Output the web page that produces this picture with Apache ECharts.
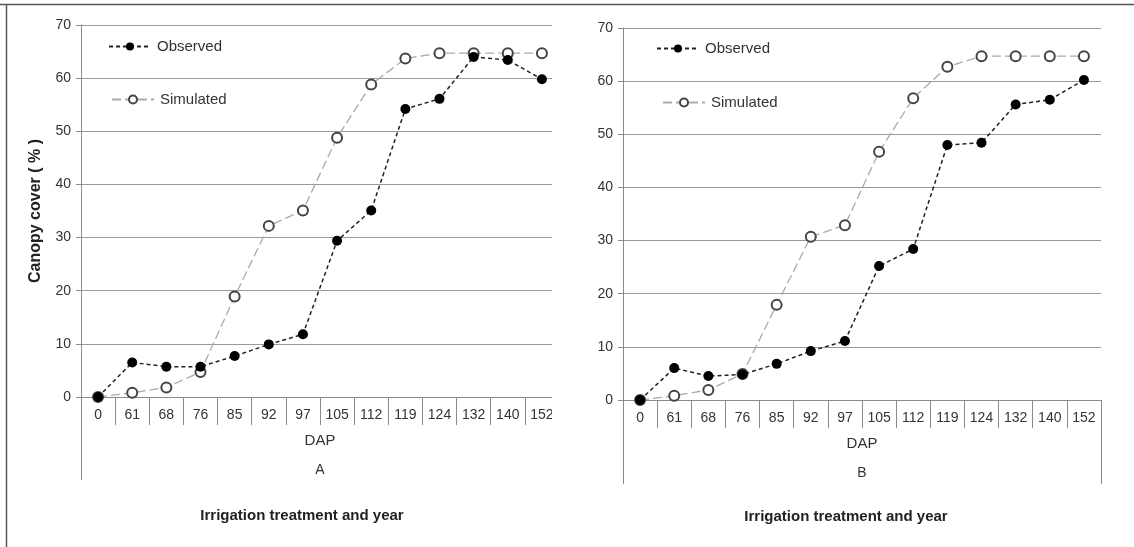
<!DOCTYPE html>
<html>
<head>
<meta charset="utf-8">
<script src="https://cdn.jsdelivr.net/npm/echarts@6/dist/echarts.min.js"></script>
<style>
html,body{margin:0;padding:0;background:#fff;}
#chart{width:1134px;height:547px;}
</style>
</head>
<body>
<div id="chart"></div>
<script>
const dapLabels = ['0','61','68','76','85','92','97','105','112','119','124','132','140','152'];
const observedA = [0, 6.5, 5.7, 5.7, 7.7, 9.9, 11.8, 29.4, 35.1, 54.2, 56.1, 64.0, 63.4, 59.8];
const simulatedA = [0, 0.8, 1.8, 4.7, 18.9, 32.2, 35.1, 48.8, 58.8, 63.7, 64.7, 64.7, 64.7, 64.7];
const observedB = [0, 6.0, 4.5, 4.8, 6.8, 9.2, 11.1, 25.2, 28.4, 48.0, 48.4, 55.6, 56.5, 60.2];
const simulatedB = [0, 0.8, 1.9, 4.9, 17.9, 30.7, 32.9, 46.7, 56.8, 62.7, 64.7, 64.7, 64.7, 64.7];
const panelLabels = ['A', 'B'];
const yTicks = {min: 0, max: 70, interval: 10};

const FONT = '"Liberation Sans", Arial, sans-serif';
const AXIS_COLOR = '#8a8a8a';

function xMain(gi) {
  return {
    type: 'category', gridIndex: gi, data: dapLabels, boundaryGap: true,
    axisLine: {show: true, lineStyle: {color: AXIS_COLOR, width: 1}},
    axisTick: {show: true, interval: 0, length: 28, lineStyle: {color: AXIS_COLOR}},
    axisLabel: {interval: 0, margin: 11, fontSize: 14, color: '#333', fontFamily: FONT},
    name: 'DAP', nameLocation: 'middle', nameGap: 36,
    nameTextStyle: {fontSize: 15, color: '#333', fontFamily: FONT}
  };
}
function xOuter(gi, len) {
  return {
    type: 'category', gridIndex: gi, data: [panelLabels[gi]], position: 'bottom',
    boundaryGap: true,
    axisLine: {show: false},
    axisTick: {show: true, length: len, lineStyle: {color: AXIS_COLOR}},
    axisLabel: {margin: 66, fontSize: 14, color: '#333', fontFamily: FONT},
    splitLine: {show: false}
  };
}
function yAx(gi) {
  return {
    type: 'value', gridIndex: gi, min: yTicks.min, max: yTicks.max, interval: yTicks.interval,
    axisLine: {show: true, lineStyle: {color: AXIS_COLOR, width: 1}},
    axisTick: {show: true, length: 5, lineStyle: {color: AXIS_COLOR}},
    axisLabel: {margin: 10, fontSize: 14, color: '#333', fontFamily: FONT},
    splitLine: {show: true, lineStyle: {color: '#9a9a9a', width: 1}},
    name: 'Canopy cover ( % )', nameLocation: 'middle', nameGap: 37,
    nameTextStyle: {fontSize: 16, fontWeight: 'bold', color: '#222', fontFamily: FONT}
  };
}
function obsSeries(gi, data) {
  return {
    name: 'Observed', type: 'line', xAxisIndex: gi * 2, yAxisIndex: gi, data: data,
    symbol: 'circle', symbolSize: 10, z: 5,
    itemStyle: {color: '#000'},
    lineStyle: {color: '#222', width: 1.5, type: [4, 3]}
  };
}
function simSeries(gi, data) {
  return {
    name: 'Simulated', type: 'line', xAxisIndex: gi * 2, yAxisIndex: gi, data: data,
    symbol: 'emptyCircle', symbolSize: 10, z: 3,
    itemStyle: {color: '#444', borderColor: '#444', borderWidth: 1.2},
    lineStyle: {color: '#aaa', width: 1.3, type: [9, 4]}
  };
}
function legendItem(name, left, top) {
  return {
    data: [name], left: left, top: top, padding: 0, itemWidth: 42, itemHeight: 10, itemGap: 0,
    selectedMode: false,
    textStyle: {fontSize: 15, color: '#333', fontFamily: FONT, padding: [0, 0, 0, 1]}
  };
}

const chart = echarts.init(document.getElementById('chart'), null, {renderer: 'canvas'});
chart.setOption({
  backgroundColor: '#fff',
  animation: false,
  grid: [
    {left: 81, top: 25, width: 478, height: 372},
    {left: 623, top: 28, width: 478, height: 372}
  ],
  xAxis: [xMain(0), xOuter(0, 83), xMain(1), xOuter(1, 84)],
  yAxis: [yAx(0), yAx(1)],
  legend: [
    legendItem('Observed', 108, 39),
    legendItem('Simulated', 111, 92),
    legendItem('Observed', 656, 41),
    legendItem('Simulated', 662, 95)
  ],
  series: [
    simSeries(0, simulatedA), obsSeries(0, observedA),
    simSeries(1, simulatedB), obsSeries(1, observedB)
  ],
  graphic: [
    {type: 'rect', z: 100, shape: {x: 552, y: 8, width: 39, height: 532}, style: {fill: '#fff'}},
    {type: 'line', z: 100, shape: {x1: 0, y1: 4.5, x2: 1134, y2: 4.5}, style: {stroke: '#555', lineWidth: 1.5}},
    {type: 'line', z: 100, shape: {x1: 6.5, y1: 4, x2: 6.5, y2: 547}, style: {stroke: '#555', lineWidth: 1.5}},
    {type: 'text', z: 100, x: 302, y: 516, style: {text: 'Irrigation treatment and year', align: 'center', verticalAlign: 'middle', font: 'bold 15px ' + FONT, fill: '#222'}},
    {type: 'text', z: 100, x: 846, y: 517, style: {text: 'Irrigation treatment and year', align: 'center', verticalAlign: 'middle', font: 'bold 15px ' + FONT, fill: '#222'}}
  ]
});
</script>
</body>
</html>
